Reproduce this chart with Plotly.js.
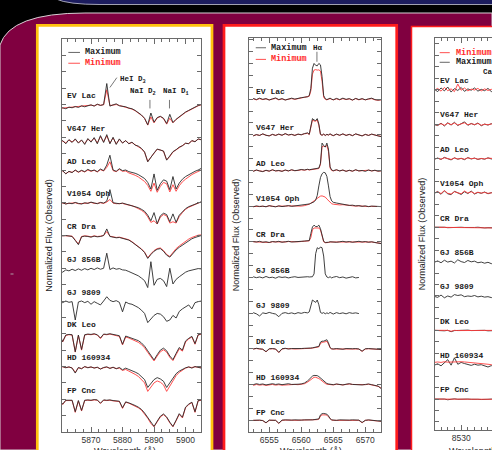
<!DOCTYPE html>
<html>
<head>
<meta charset="utf-8">
<script src="https://cdn.plot.ly/plotly-3.0.1.min.js"></script>
<style>
html, body { margin: 0; padding: 0; background: #000; overflow: hidden; }
#chart { width: 492px; height: 450px; }
</style>
</head>
<body>
<div id="chart"></div>
<script>
// Stars, top to bottom in every panel
const STARS = ['EV Lac', 'V647 Her', 'AD Leo', 'V1054 Oph', 'CR Dra', 'GJ 856B', 'GJ 9809', 'DK Leo', 'HD 160934', 'FP Cnc'];

// ---------- Na I D / He I D3 region (normalized flux) ----------
const NAD_WAVE = [5860,5861,5862,5863,5864,5865,5866,5867,5868,5869,5870,5871,5872,5873,5874,5875,5876,5877,5878,5879,5880,5881,5882,5883,5884,5885,5886,5887,5888,5889,5890,5891,5892,5893,5894,5895,5896,5897,5898,5899,5900,5901,5902,5903,5904,5905];

const NAD_MAX_EVLAC = [.86,.90,.87,.92,.90,.94,.91,.96,.93,.97,.99,.95,1.01,.97,1.00,1.64,.95,.99,1.02,.96,.95,.93,.89,.87,.82,.76,.68,.58,.38,.74,.46,.60,.64,.58,.42,.70,.45,.55,.63,.70,.77,.82,.88,.92,.97,1.00];
const NAD_MIN_EVLAC = [.88,.89,.90,.91,.92,.93,.93,.95,.94,.96,.98,.96,1.00,.98,.99,1.45,.97,.98,1.00,.97,.94,.92,.90,.86,.81,.75,.67,.57,.37,.62,.44,.59,.63,.57,.40,.58,.44,.54,.62,.69,.76,.81,.87,.91,.96,.99];
const NAD_MAX_V647HER = [.82,.90,.80,.93,.84,.95,.82,.92,.78,.96,.85,.99,.80,1.05,.84,1.08,.80,1.00,.78,.95,.82,.90,.80,.85,.76,.73,.66,.55,.25,.40,.52,.64,.62,.58,.30,.42,.56,.62,.70,.74,.82,.80,.90,.86,.95,.92];
const NAD_MIN_V647HER = [.84,.88,.83,.91,.86,.93,.84,.90,.81,.94,.87,.97,.83,1.02,.86,1.04,.82,.98,.80,.93,.83,.89,.81,.84,.77,.72,.65,.54,.26,.39,.51,.63,.61,.57,.31,.41,.55,.61,.69,.74,.81,.81,.89,.87,.94,.93];
const NAD_MAX_ADLEO = [.93,.98,.88,.96,.92,1.00,.94,.99,.95,1.02,.97,1.00,.95,1.03,.98,1.15,1.45,1.00,.96,1.04,.98,1.00,.95,.93,.90,.86,.80,.74,.62,.42,.88,.38,.58,.70,.66,.40,.80,.42,.60,.72,.80,.86,.92,.96,1.00,1.05];
const NAD_MIN_ADLEO = [.92,.97,.89,.95,.93,.99,.93,.98,.94,1.00,.96,.99,.94,1.01,.97,1.08,1.25,.98,.95,1.02,.96,.97,.91,.88,.84,.79,.72,.65,.53,.35,.60,.32,.50,.62,.58,.33,.55,.35,.52,.64,.72,.80,.86,.91,.95,1.00];
const NAD_MAX_V1054OPH = [.97,1.00,.96,.99,.97,1.01,.98,.96,1.00,.98,1.02,.99,.97,1.01,.99,1.05,1.40,1.00,.98,.97,.99,.96,.95,.92,.89,.85,.80,.74,.62,.45,.70,.36,.60,.68,.64,.42,.66,.40,.62,.72,.82,.88,.92,.96,1.00,1.03];
const NAD_MIN_V1054OPH = [.98,.99,.97,.98,.98,1.00,.97,.97,.99,.99,1.01,.98,.98,1.00,.98,1.02,1.10,.99,.97,.98,.98,.95,.94,.91,.87,.83,.77,.70,.57,.40,.45,.35,.56,.64,.60,.38,.42,.38,.58,.70,.80,.86,.91,.95,.99,1.02];
const NAD_MAX_CRDRA = [1.01,.99,1.00,.98,.97,.85,.72,.96,.98,.97,.95,.98,.96,.97,1.00,1.20,.97,.95,.93,.94,.92,.90,.86,.80,.73,.66,.58,.48,.30,.42,.52,.58,.60,.52,.40,.34,.46,.56,.64,.71,.78,.84,.90,.94,.98,1.00];
const NAD_MIN_CRDRA = [1.00,1.00,.99,.99,.98,.86,.74,.97,.99,.98,.96,.99,.97,.98,1.00,1.12,.98,.96,.94,.95,.93,.91,.87,.81,.74,.67,.59,.49,.32,.44,.54,.60,.62,.54,.42,.36,.50,.60,.68,.76,.83,.89,.94,.98,1.01,1.02];
const NAD_MAX_GJ856B = [.93,.88,.95,.92,.97,.93,.98,.94,.99,.95,1.00,.96,1.01,.97,1.00,1.46,.96,1.01,.97,.99,.95,.94,.90,.86,.81,.77,.70,.62,.41,1.20,.48,.66,.69,.62,.44,1.00,.52,.66,.74,.82,.88,.92,.95,.97,.99,.98];
const NAD_MAX_GJ9809 = [.98,.95,1.00,.96,.98,.42,.97,1.00,.95,.99,.90,.98,.93,.88,1.00,1.13,1.02,.98,1.01,.96,.67,.97,.92,.90,.85,.80,.72,.62,.34,.45,.56,.62,.60,.52,.38,.42,.56,.48,.68,.76,.83,.88,.76,.95,.98,1.00];
const NAD_MAX_DKLEO = [.97,.76,.96,.98,.97,.45,.96,.52,.97,.99,.98,1.00,.97,.87,.99,.98,1.00,.97,.96,.94,.68,.93,.90,.87,.83,.79,.72,.62,.48,.32,.20,.36,.50,.56,.48,.32,.21,.40,.58,.50,.78,.86,.92,.70,.97,1.00];
const NAD_MIN_DKLEO = [.96,.75,.95,.97,.96,.44,.95,.50,.96,.98,.97,.99,.96,.85,.98,.97,.99,.96,.94,.92,.66,.90,.87,.83,.79,.74,.67,.57,.43,.28,.17,.32,.45,.51,.44,.28,.18,.36,.54,.47,.75,.84,.90,.68,.96,.99];
const NAD_MAX_HD160934 = [.98,1.00,.96,.99,.95,.80,.97,.93,1.00,.96,.99,.95,.98,.92,.97,.99,.94,.98,.93,.97,.90,.95,.91,.88,.83,.78,.70,.60,.36,.48,.60,.66,.62,.55,.36,.50,.66,.78,.86,.92,.96,.99,.95,1.00,.97,.95];
const NAD_MIN_HD160934 = [.97,.99,.97,.98,.96,.82,.96,.94,.99,.97,.98,.96,.97,.93,.96,.98,.95,.97,.94,.95,.88,.91,.86,.82,.76,.70,.61,.50,.24,.38,.50,.56,.52,.44,.24,.40,.58,.72,.82,.90,.95,.98,.97,.99,.98,.97];
const NAD_MAX_FPCNC = [.98,.85,.97,.98,.97,.62,.96,.66,.97,.98,.97,.99,.98,.88,.98,.97,.98,.96,.95,.94,.74,.92,.89,.86,.81,.76,.69,.58,.44,.28,.17,.33,.48,.55,.46,.30,.17,.36,.56,.45,.76,.85,.91,.62,.96,.98];
const NAD_MIN_FPCNC = [.97,.84,.96,.97,.96,.60,.95,.64,.96,.97,.96,.98,.97,.87,.97,.96,.97,.95,.94,.93,.72,.91,.88,.84,.79,.74,.67,.56,.42,.26,.16,.31,.46,.53,.44,.28,.16,.34,.54,.43,.74,.84,.90,.60,.95,.97];

// ---------- H-alpha region ----------
const HA_WAVE = [6552.5,6553,6553.5,6554,6554.5,6555,6555.5,6556,6556.5,6557,6557.5,6558,6558.5,6559,6559.5,6560,6560.5,6561,6561.25,6561.5,6561.75,6562,6562.25,6562.5,6562.75,6563,6563.25,6563.5,6563.75,6564,6564.25,6564.5,6564.75,6565,6565.5,6566,6566.5,6567,6567.5,6568,6568.5,6569,6569.5,6570,6570.5,6571,6571.5,6572,6572.5];

const HA_MAX_EVLAC = [1.03,.98,1.04,.99,1.02,.96,1.01,1.05,.98,1.02,.96,1.00,1.04,1.00,1.04,1.06,1.08,1.10,1.15,1.45,2.30,2.50,2.42,2.40,2.50,2.44,1.95,1.15,1.02,.98,1.01,1.04,1.00,.97,1.03,.98,1.04,.99,1.02,.96,1.03,.98,1.02,.97,1.01,1.04,.98,.96,.98];
const HA_MIN_EVLAC = [1.01,.97,1.02,.98,1.01,.97,1.00,1.03,.97,1.01,.97,.99,1.02,.99,1.02,1.04,1.06,1.08,1.12,1.35,2.05,2.22,2.24,2.22,2.23,2.18,1.75,1.08,.99,.97,1.00,1.02,.99,.97,1.01,.97,1.02,.98,1.01,.96,1.02,.97,1.01,.97,1.00,1.02,.97,.95,.97];
const HA_MAX_V647HER = [.95,1.01,.97,1.04,.98,.95,1.02,.97,1.03,.98,1.05,.99,1.02,.97,1.03,1.00,1.05,1.08,1.02,1.45,1.68,1.62,1.60,1.68,1.45,1.02,.98,1.03,.97,1.02,.99,1.04,.98,.96,1.03,.98,1.04,.97,1.02,.96,1.04,.99,.95,1.02,.97,1.03,.98,.95,.92];
const HA_MIN_V647HER = [.96,1.00,.98,1.03,.98,.96,1.01,.98,1.02,.98,1.04,.99,1.01,.98,1.02,1.00,1.04,1.06,1.01,1.40,1.62,1.58,1.57,1.62,1.40,1.01,.98,1.02,.98,1.01,.99,1.03,.98,.97,1.02,.98,1.03,.98,1.01,.97,1.03,.99,.96,1.01,.98,1.02,.98,.96,.93];
const HA_MAX_ADLEO = [.96,1.02,.98,.95,1.01,.97,1.03,.98,1.00,.96,1.02,.98,1.03,.99,1.01,1.04,1.02,1.05,1.03,1.04,1.06,1.05,1.08,1.10,1.10,1.30,2.15,2.05,1.98,2.15,1.90,1.15,1.02,.99,1.03,.98,1.02,.96,1.01,.97,1.03,.98,1.00,.96,1.02,.98,1.01,.97,.99];
const HA_MIN_ADLEO = [.97,1.01,.98,.96,1.00,.97,1.02,.98,.99,.97,1.01,.98,1.02,.99,1.00,1.03,1.01,1.04,1.02,1.03,1.05,1.04,1.06,1.08,1.08,1.25,2.00,2.02,2.00,2.05,1.80,1.10,1.00,.98,1.02,.98,1.01,.97,1.00,.97,1.02,.98,.99,.97,1.01,.98,1.00,.97,.98];
const HA_MAX_V1054OPH = [.97,1.01,.98,1.00,.97,1.02,.99,.97,1.01,.98,1.00,1.02,.99,1.01,1.00,1.03,1.05,1.07,1.09,1.12,1.15,1.18,1.25,1.45,1.85,2.20,2.36,2.42,2.40,2.25,1.85,1.40,1.22,1.16,1.13,1.10,1.08,1.06,1.03,1.04,1.01,1.02,.99,1.01,.98,1.00,.99,.97,.98];
const HA_MIN_V1054OPH = [.98,1.00,.99,.99,.98,1.01,.99,.98,1.00,.99,1.00,1.01,1.00,1.01,1.00,1.00,1.02,1.04,1.08,1.12,1.16,1.22,1.28,1.33,1.38,1.42,1.43,1.40,1.38,1.30,1.22,1.15,1.10,1.08,1.06,1.05,1.06,1.04,1.02,1.03,1.00,1.01,.99,1.00,.98,.99,.99,.97,.98];
const HA_MAX_CRDRA = [1.01,.99,1.02,.98,1.00,.97,1.01,.99,1.02,.98,1.00,1.02,.99,1.01,1.00,1.02,1.03,1.04,1.05,1.35,1.62,1.70,1.64,1.64,1.70,1.55,1.25,1.02,.97,.96,.98,1.00,.99,1.01,.98,1.00,1.02,.99,1.01,.98,1.00,1.02,.99,1.01,.98,1.00,.97,.95,.92];
const HA_MIN_CRDRA = [1.00,.99,1.01,.98,.99,.97,1.00,.99,1.01,.98,.99,1.01,.99,1.00,1.00,1.01,1.02,1.03,1.04,1.18,1.50,1.58,1.57,1.56,1.58,1.50,1.18,1.00,.96,.95,.97,.99,.99,1.00,.98,.99,1.01,.99,1.00,.98,.99,1.01,.99,1.00,.98,.99,.97,.95,.93];
const HA_MAX_GJ856B = [1.03,.99,1.02,.98,1.04,.99,1.01,.97,1.03,1.00,1.02,.98,1.01,1.03,1.00,1.02,1.01,1.03,1.02,1.04,1.03,1.15,2.00,2.25,2.20,2.28,2.25,1.90,1.15,1.02,.99,1.03,.98,1.01,1.04,.99,1.02,.97,1.00,1.03,.98,1.00,null,null,null,null,null,null,null];
const HA_MAX_GJ9809 = [1.02,.97,.88,1.01,.98,1.03,.99,.96,.85,.99,1.02,.98,1.01,.97,1.02,.99,1.03,1.01,1.05,1.30,1.55,1.50,1.45,1.55,1.35,1.03,.99,1.02,.97,1.01,.98,1.03,.99,.96,1.02,.98,1.01,.97,1.02,.99,1.01,.98,null,null,null,null,null,null,null];
const HA_MAX_DKLEO = [.99,1.02,1.00,.98,.88,1.00,1.01,.99,.85,1.00,1.02,.99,1.01,1.00,.99,1.01,1.02,1.01,1.02,1.03,1.04,1.05,1.06,1.08,1.10,1.28,1.32,1.32,1.36,1.38,1.25,1.05,1.00,.99,1.01,1.00,.98,1.01,.99,1.00,1.01,.99,.90,1.00,1.01,.99,1.00,.98,.97];
const HA_MIN_DKLEO = [.99,1.01,.99,.98,.87,.99,1.00,.99,.84,.99,1.01,.99,1.00,.99,.99,1.00,1.01,1.00,1.01,1.02,1.03,1.04,1.05,1.06,1.08,1.22,1.27,1.28,1.30,1.31,1.20,1.04,.99,.99,1.00,.99,.98,1.00,.99,.99,1.00,.99,.89,.99,1.00,.99,.99,.98,.97];
const HA_MAX_HD160934 = [.99,1.03,1.00,1.02,.98,1.01,1.03,1.00,1.02,.99,1.01,1.03,1.00,1.02,1.01,1.02,1.06,1.15,1.22,1.30,1.35,1.38,1.39,1.37,1.33,1.27,1.20,1.13,1.08,1.04,1.02,1.00,1.01,.99,1.02,1.00,.98,1.01,1.03,1.00,.99,1.01,.98,1.00,1.02,.99,.97,.93,.82];
const HA_MIN_HD160934 = [.96,1.00,.97,.99,.96,.98,1.00,.97,.99,.97,.98,1.00,.98,1.00,.99,1.00,1.03,1.10,1.16,1.22,1.27,1.30,1.30,1.28,1.25,1.20,1.14,1.08,1.04,1.01,1.00,.99,1.00,.98,1.01,.99,.98,1.00,1.02,1.00,.99,1.00,.98,.99,1.01,.98,.96,.92,.84];
const HA_MAX_FPCNC = [.99,1.01,1.00,.98,.89,1.00,1.01,.99,.87,1.00,1.01,.99,1.00,1.01,.99,1.00,1.01,1.00,1.01,1.00,1.01,1.02,1.02,1.03,1.05,1.22,1.27,1.28,1.26,1.25,1.18,1.06,1.01,1.00,.99,1.01,1.00,.98,1.00,1.01,.99,1.00,.90,.99,1.01,1.00,.98,.96,.95];
const HA_MIN_FPCNC = [.99,1.00,.99,.98,.88,.99,1.00,.99,.86,.99,1.00,.99,1.00,1.00,.99,1.00,1.00,1.00,1.00,1.00,1.00,1.01,1.01,1.02,1.04,1.17,1.22,1.23,1.22,1.21,1.14,1.04,1.00,.99,.99,1.00,.99,.98,.99,1.00,.99,.99,.89,.99,1.00,.99,.98,.96,.95];

// ---------- Ca II infrared triplet region ----------
const CA_WAVE = [8526,8526.5,8527,8527.5,8528,8528.5,8529,8529.5,8530,8530.5,8531,8531.5,8532,8532.5,8533,8533.5,8534,8534.5,8535,8535.5];

const CA_MAX_EVLAC = [1.02,.92,1.08,.95,1.12,.90,1.05,.97,1.10,.93,1.04,.98,1.08,.94,1.02,.96,1.06,.92,1.00,.95];
const CA_MIN_EVLAC = [.98,1.06,.94,1.10,.96,1.04,.92,1.25,.98,1.08,.95,1.03,.99,1.06,.95,1.04,.97,1.02,.94,1.00];
const CA_MAX_V647HER = [.98,.94,1.04,.92,1.06,.96,1.08,.94,1.02,1.10,.95,1.03,.97,1.05,.93,1.00,.96,1.02,.95,.99];
const CA_MIN_V647HER = [.99,.96,1.02,.95,1.04,.98,1.05,.96,1.01,1.06,.97,1.02,.98,1.03,.95,1.00,.97,1.01,.96,.98];
const CA_MAX_ADLEO = [.97,1.02,.96,1.05,.99,.94,1.03,.97,1.01,.95,1.04,.98,1.02,.96,1.00,.97,1.03,.98,1.01,.99];
const CA_MIN_ADLEO = [.98,1.01,.97,1.03,1.00,.96,1.02,.98,1.00,.97,1.03,.99,1.01,.97,1.00,.98,1.02,.99,1.00,.98];
const CA_MAX_V1054OPH = [.98,1.06,.94,1.09,.96,.92,1.07,1.00,.93,1.05,.97,1.08,.95,1.02,.98,1.04,.96,1.01,.97,1.00];
const CA_MIN_V1054OPH = [1.00,1.04,.97,1.10,.98,.95,1.05,1.02,.96,1.08,.99,1.05,.97,1.03,.99,1.02,.98,1.00,.99,1.00];
const CA_MAX_CRDRA = [1.00,1.01,.99,1.00,.98,.99,1.00,1.01,1.00,.99,.98,1.00,.99,1.00,.98,.97,.98,.97,.96,.97];
const CA_MIN_CRDRA = [1.00,1.00,.99,1.00,.99,.99,1.00,1.00,1.00,.99,.99,.99,.99,.99,.98,.97,.97,.97,.96,.96];
const CA_MAX_GJ856B = [.97,1.03,.95,1.06,.98,1.02,.94,1.08,1.00,.96,1.05,.99,1.02,.95,.98,.93,.97,.91,.96,.94];
const CA_MAX_GJ9809 = [.98,.94,1.04,.92,1.00,.95,1.06,1.02,1.05,.97,1.00,.98,1.02,.96,.99,.95,.97,.93,.96,.95];
const CA_MAX_DKLEO = [1.00,.99,1.00,.98,1.00,.94,.99,1.00,.98,1.00,1.01,.99,1.00,.98,.99,1.00,.98,.99,1.00,.99];
const CA_MIN_DKLEO = [1.00,1.00,.99,.99,1.00,.96,1.00,.99,.99,1.00,1.00,1.00,.99,.99,1.00,.99,.99,1.00,.99,1.00];
const CA_MAX_HD160934 = [.98,1.04,.95,1.08,1.22,.98,1.30,1.02,1.10,1.05,1.00,.97,1.02,.98,1.00,.94,.90,.96,.86,.92];
const CA_MIN_HD160934 = [1.10,1.12,1.10,1.13,1.11,1.12,1.14,1.12,1.13,1.12,1.11,1.10,1.09,1.08,1.06,1.04,1.02,1.00,.98,.97];
const CA_MAX_FPCNC = [1.00,1.01,.99,1.00,.97,1.00,1.01,.99,1.00,.98,1.00,.99,1.00,.99,.98,1.00,.99,1.00,.99,.98];
const CA_MIN_FPCNC = [1.00,1.00,1.00,.99,.98,.99,1.00,1.00,.99,.99,1.00,1.00,.99,.99,.99,1.00,.99,.99,.99,.99];

// per-panel tables, same order as STARS (null = no minimum-state spectrum)
const NAD_MAX = [NAD_MAX_EVLAC, NAD_MAX_V647HER, NAD_MAX_ADLEO, NAD_MAX_V1054OPH, NAD_MAX_CRDRA, NAD_MAX_GJ856B, NAD_MAX_GJ9809, NAD_MAX_DKLEO, NAD_MAX_HD160934, NAD_MAX_FPCNC];
const NAD_MIN = [NAD_MIN_EVLAC, NAD_MIN_V647HER, NAD_MIN_ADLEO, NAD_MIN_V1054OPH, NAD_MIN_CRDRA, null, null, NAD_MIN_DKLEO, NAD_MIN_HD160934, NAD_MIN_FPCNC];
const HA_MAX = [HA_MAX_EVLAC, HA_MAX_V647HER, HA_MAX_ADLEO, HA_MAX_V1054OPH, HA_MAX_CRDRA, HA_MAX_GJ856B, HA_MAX_GJ9809, HA_MAX_DKLEO, HA_MAX_HD160934, HA_MAX_FPCNC];
const HA_MIN = [HA_MIN_EVLAC, HA_MIN_V647HER, HA_MIN_ADLEO, HA_MIN_V1054OPH, HA_MIN_CRDRA, null, null, HA_MIN_DKLEO, HA_MIN_HD160934, HA_MIN_FPCNC];
const CA_MAX = [CA_MAX_EVLAC, CA_MAX_V647HER, CA_MAX_ADLEO, CA_MAX_V1054OPH, CA_MAX_CRDRA, CA_MAX_GJ856B, CA_MAX_GJ9809, CA_MAX_DKLEO, CA_MAX_HD160934, CA_MAX_FPCNC];
const CA_MIN = [CA_MIN_EVLAC, CA_MIN_V647HER, CA_MIN_ADLEO, CA_MIN_V1054OPH, CA_MIN_CRDRA, null, null, CA_MIN_DKLEO, CA_MIN_HD160934, CA_MIN_FPCNC];

// ---------- drawing ----------
const W = 492, H = 450;
const fx = x => x / W;          // pixel column -> paper fraction
const fy = y => 1 - y / H;      // pixel row -> paper fraction
const pt = (x, y) => fx(x).toFixed(5) + ',' + fy(y).toFixed(5);

const MAX_COLOR = '#2a2a2a';
const MIN_COLOR = '#ff3c3c';
const AXIS_COLOR = '#6a6a6a';
const MONO = 'Liberation Mono, DejaVu Sans Mono, monospace';
const SANS = 'Liberation Sans, Arial, sans-serif';

const panels = [
  { xa: 'x',  ya: 'y',  wave: NAD_WAVE, max: NAD_MAX, min: NAD_MIN, step: 1.0, labelX: 5861.7, labelDy: 1.27, redOnTop: false, titleX: 124.5 },
  { xa: 'x2', ya: 'y2', wave: HA_WAVE,  max: HA_MAX,  min: HA_MIN,  step: 1.5, labelX: 6552.7, labelDy: 1.30, redOnTop: false, titleX: 311 },
  { xa: 'x3', ya: 'y3', wave: CA_WAVE,  max: CA_MAX,  min: CA_MIN,  step: 1.5, labelX: 8526.5, labelDy: 1.40, redOnTop: true,  titleX: 480 }
];

const traces = [];
const annotations = [];
const shapes = [];
const titleFont = { family: SANS, size: 9, color: '#222222' };

panels.forEach(p => {
  STARS.forEach((name, i) => {
    const off = (STARS.length - 1 - i) * p.step;
    const line = (flux, color) => ({
      type: 'scatter', mode: 'lines', name: name,
      x: p.wave, y: flux.map(v => v === null ? null : v + off),
      xaxis: p.xa, yaxis: p.ya,
      line: { color: color, width: 0.9 },
      hoverinfo: 'skip', showlegend: false
    });
    const pair = [];
    if (p.min[i]) pair.push(line(p.min[i], MIN_COLOR));
    pair.push(line(p.max[i], MAX_COLOR));
    if (p.redOnTop) pair.reverse();
    traces.push(...pair);
    annotations.push({
      xref: p.xa, yref: p.ya, x: p.labelX, y: off + p.labelDy,
      text: name, showarrow: false, xanchor: 'left', yanchor: 'middle',
      font: { family: MONO, size: 8, color: '#1a1a1a', weight: 'bold' }
    });
  });
  // wavelength axis title, sitting at the lower edge of the page
  annotations.push({
    xref: 'paper', yref: 'paper', x: fx(p.titleX), y: fy(443.5), xanchor: 'center', yanchor: 'top',
    text: 'Wavelength (Å)', showarrow: false, font: titleFont
  });
});

// in-panel legends
function legendItem(xa, ya, x0, x1, y, tx, label, color) {
  shapes.push({ type: 'line', xref: xa, yref: ya, x0: x0, x1: x1, y0: y, y1: y, line: { color: color, width: 0.9 } });
  annotations.push({ xref: xa, yref: ya, x: tx, y: y, text: label, showarrow: false, xanchor: 'left', yanchor: 'middle',
    font: { family: MONO, size: 8.5, color: color === MIN_COLOR ? '#ff2a2a' : '#1a1a1a', weight: 'bold' } });
}
legendItem('x', 'y', 5862.8, 5866.5, 11.59, 5867.6, 'Maximum', '#555555');
legendItem('x', 'y', 5862.8, 5866.5, 11.26, 5867.6, 'Minimum', MIN_COLOR);
legendItem('x2', 'y2', 6552.9, 6554.5, 16.66, 6555.0, 'Maximum', '#555555');
legendItem('x2', 'y2', 6552.9, 6554.5, 16.17, 6555.0, 'Minimum', MIN_COLOR);
legendItem('x3', 'y3', 8526.8, 8528.3, 16.12, 8529.0, 'Minimum', MIN_COLOR);
legendItem('x3', 'y3', 8526.8, 8528.3, 15.70, 8529.0, 'Maximum', '#555555');

// line identifications
const idFont = { family: MONO, size: 7.5, color: '#1a1a1a', weight: 'bold' };
annotations.push(
  { xref: 'x', yref: 'y', x: 5883.3, y: 10.75, text: 'HeI D<sub>3</sub>', showarrow: false, font: idFont },
  { xref: 'x', yref: 'y', x: 5886.6, y: 10.39, text: 'NaI D<sub>2</sub>', showarrow: false, font: idFont },
  { xref: 'x', yref: 'y', x: 5897.0, y: 10.39, text: 'NaI D<sub>1</sub>', showarrow: false, font: idFont },
  { xref: 'x2', yref: 'y2', x: 6561.6, y: 16.66, text: 'Hα', showarrow: false, xanchor: 'left', font: idFont },
  { xref: 'x3', yref: 'y3', x: 8532.9, y: 15.27, text: 'CaII', showarrow: false, xanchor: 'left', font: idFont }
);
const mark = { color: '#555555', width: 0.8 };
shapes.push(
  { type: 'line', xref: 'x', yref: 'y', x0: 5876.0, y0: 10.52, x1: 5878.2, y1: 10.82, line: mark },
  { type: 'line', xref: 'x', yref: 'y', x0: 5888.7, y0: 9.88, x1: 5888.7, y1: 10.14, line: mark },
  { type: 'line', xref: 'x', yref: 'y', x0: 5894.9, y0: 9.88, x1: 5894.9, y1: 10.14, line: mark },
  { type: 'line', xref: 'x2', yref: 'y2', x0: 6562.45, y0: 16.07, x1: 6562.45, y1: 16.49, line: mark }
);

// poster backdrop: header band, maroon field, framed panels
shapes.unshift(
  { type: 'path', xref: 'paper', yref: 'paper', layer: 'below',
    path: 'M ' + pt(0, 45) + ' Q ' + pt(10, 13) + ' ' + pt(85, 13) + ' L ' + pt(492, 13) + ' L ' + pt(492, 450) + ' L ' + pt(0, 450) + ' Z',
    fillcolor: '#800040', line: { color: '#d8d0d4', width: 1 } },
  { type: 'path', xref: 'paper', yref: 'paper', layer: 'below',
    path: 'M ' + pt(56, -1) + ' Q ' + pt(68, 4.5) + ' ' + pt(100, 4.5) + ' L ' + pt(495, 4.5) + ' L ' + pt(495, -1) + ' Z',
    fillcolor: '#1c1c5e', line: { color: '#c8c8d4', width: 0.8 } },
  { type: 'rect', xref: 'paper', yref: 'paper', layer: 'below',
    x0: fx(37.3), x1: fx(212), y0: fy(470), y1: fy(25.3),
    fillcolor: '#ffffff', line: { color: '#ffc20e', width: 2.7 } },
  { type: 'rect', xref: 'paper', yref: 'paper', layer: 'below',
    x0: fx(224), x1: fx(396.7), y0: fy(470), y1: fy(25.3),
    fillcolor: '#ffffff', line: { color: '#ff1c1c', width: 2.7 } },
  { type: 'rect', xref: 'paper', yref: 'paper', layer: 'below',
    x0: fx(411.5), x1: fx(530), y0: fy(470), y1: fy(26.5),
    fillcolor: '#ffffff', line: { color: '#ff1c1c', width: 1.5 } },
  { type: 'line', xref: 'paper', yref: 'paper', layer: 'below',
    x0: fx(10.5), x1: fx(13.5), y0: fy(274), y1: fy(274), line: { color: '#b0a0a8', width: 1 } }
);

const axisBase = {
  showline: true, linecolor: AXIS_COLOR, linewidth: 1, mirror: 'ticks',
  ticks: 'inside', tickcolor: AXIS_COLOR, showgrid: false, zeroline: false, fixedrange: true
};
const tickFont = { family: SANS, size: 8.5, color: '#333333' };
const yTitle = { text: 'Normalized Flux (Observed)', font: titleFont, standoff: 6 };
const yBase = Object.assign({}, axisBase, { showticklabels: false, dtick: 0.5, tick0: 0, ticklen: 4, title: yTitle });

const layout = {
  width: W, height: H,
  margin: { l: 0, r: 0, t: 0, b: 0 },
  paper_bgcolor: '#000000', plot_bgcolor: 'rgba(0,0,0,0)',
  showlegend: false,
  xaxis: Object.assign({}, axisBase, {
    domain: [fx(61.7), fx(201)], range: [5860.7, 5904.9], anchor: 'y',
    tick0: 5870, dtick: 10, ticklen: 5, tickfont: tickFont,
    minor: { ticks: 'inside', ticklen: 3, dtick: 2.5, tick0: 5860, tickcolor: AXIS_COLOR }
  }),
  yaxis: Object.assign({}, yBase, { domain: [fy(432), fy(39)], range: [0, 12], anchor: 'x' }),
  xaxis2: Object.assign({}, axisBase, {
    domain: [fx(248.7), fx(381)], range: [6551.8, 6572.45], anchor: 'y2',
    tick0: 6555, dtick: 5, ticklen: 5, tickfont: tickFont,
    minor: { ticks: 'inside', ticklen: 3, dtick: 1.25, tick0: 6550, tickcolor: AXIS_COLOR }
  }),
  yaxis2: Object.assign({}, yBase, { domain: [fy(432), fy(38)], range: [0.5, 17.07], anchor: 'x2' }),
  xaxis3: Object.assign({}, axisBase, {
    domain: [fx(435), 1], range: [8526.1, 8534.6], anchor: 'y3',
    tick0: 8530, dtick: 5, ticklen: 5, tickfont: tickFont,
    minor: { ticks: 'inside', ticklen: 3, dtick: 1, tick0: 8520, tickcolor: AXIS_COLOR }
  }),
  yaxis3: Object.assign({}, yBase, { domain: [fy(430), fy(38)], range: [-0.35, 16.76], anchor: 'x3', mirror: false }),
  shapes: shapes,
  annotations: annotations
};

Plotly.newPlot('chart', traces, layout, { staticPlot: true, displayModeBar: false });
</script>
</body>
</html>
